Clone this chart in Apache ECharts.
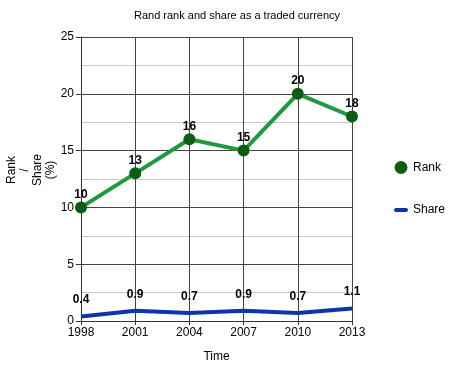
<!DOCTYPE html>
<html><head><meta charset="utf-8">
<script src="https://cdn.jsdelivr.net/npm/echarts@6/dist/echarts.min.js"></script>
<style>html,body{margin:0;padding:0;background:#fff}#c{width:474px;height:365px}</style>
</head><body><div id="c"></div>
<script>
const years = ['1998','2001','2004','2007','2010','2013'];
const rank = [10, 13, 16, 15, 20, 18];
const share = [0.4, 0.9, 0.7, 0.9, 0.7, 1.1];
const yTicks = [0, 5, 10, 15, 20, 25];
const yName = 'Rank\n/\nShare\n(%)';

const chart = echarts.init(document.getElementById('c'), null, {renderer:'canvas'});
const font = 'Liberation Sans, Arial, sans-serif';
chart.setOption({
  animation: false,
  backgroundColor: '#fff',
  title: {text: 'Rand rank and share as a traded currency', left: 'center', top: 5,
    textStyle: {fontFamily: font, fontSize: 11, fontWeight: 'normal', color: '#000'}},
  grid: {left: 81, right: 122, top: 37, bottom: 44, containLabel: false, outerBoundsMode: 'none'},
  graphic: [{type: 'text', x: 31, y: 170, rotation: Math.PI / 2,
    style: {text: yName, fontFamily: font, fontSize: 12, lineHeight: 13, fill: '#000', align: 'center', verticalAlign: 'middle'}}],
  legend: {orient: 'vertical', left: 389, top: 156, itemGap: 30, itemWidth: 14, itemHeight: 13,
    textStyle: {fontFamily: font, fontSize: 12, color: '#000'},
    data: [{name: 'Rank', icon: 'circle', itemStyle: {color: '#0e5c14'}},
           {name: 'Share', icon: 'path://M2,0 L12,0 A2,2 0 0 1 12,4 L2,4 A2,2 0 0 1 2,0 Z',
            itemStyle: {color: '#0f35ad', opacity: 1}}]},
  xAxis: {type: 'category', data: years, boundaryGap: false,
    name: 'Time', nameLocation: 'middle', nameGap: 30,
    nameTextStyle: {fontFamily: font, fontSize: 12, color: '#000'},
    axisLine: {lineStyle: {color: '#333', width: 1}},
    axisTick: {show: true, length: 4, lineStyle: {color: '#333'}},
    axisLabel: {fontFamily: font, fontSize: 12, color: '#000', margin: 6},
    splitLine: {show: true, lineStyle: {color: '#444', width: 1}}},
  yAxis: {type: 'value', min: 0, max: 25, interval: 5,
    axisLine: {show: true, lineStyle: {color: '#333', width: 1}},
    axisTick: {show: true, length: 5, lineStyle: {color: '#333'}},
    axisLabel: {fontFamily: font, fontSize: 12, color: '#000', margin: 7,
      formatter: v => yTicks.includes(v) ? String(v) : ''},
    splitLine: {show: true, lineStyle: {color: '#444', width: 1}},
    minorTick: {show: false, splitNumber: 2},
    minorSplitLine: {show: true, lineStyle: {color: '#c8c8c8', width: 1}}},
  series: [
    {name: 'Rank', type: 'line', data: rank, symbol: 'circle', symbolSize: 12,
      lineStyle: {color: '#1e9a3e', width: 4}, itemStyle: {color: '#0e5c14'},
      label: {show: true, position: 'top', distance: 1, fontFamily: font, fontSize: 12, fontWeight: 'bold', color: '#000'}},
    {name: 'Share', type: 'line', data: share, symbol: 'circle', symbolSize: 1, showSymbol: true,
      lineStyle: {color: '#0f35ad', width: 4}, itemStyle: {color: 'rgba(0,0,0,0)', borderWidth: 0},
      label: {show: true, position: 'top', distance: 10, fontFamily: font, fontSize: 12, fontWeight: 'bold', color: '#000'}}
  ]
});
</script></body></html>
